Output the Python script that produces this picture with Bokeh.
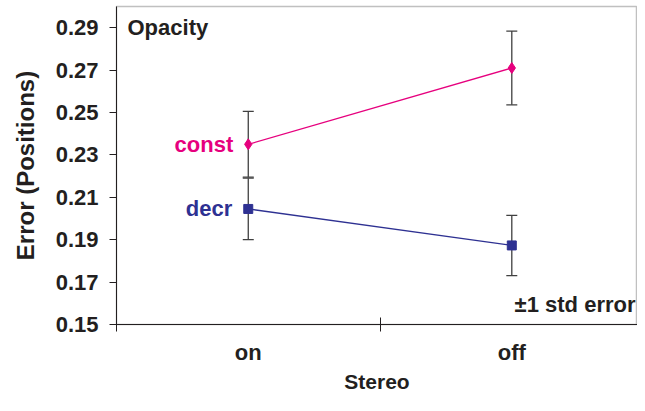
from bokeh.plotting import figure
from bokeh.models import FixedTicker, Range1d, Whisker, ColumnDataSource, Label, TeeHead
from bokeh.embed import file_html
from bokeh.resources import INLINE

categories = ["on", "off"]
const_vals = [0.235, 0.271]
const_err = [0.0155, 0.0174]
decr_vals = [0.2045, 0.1873]
decr_err = [0.0145, 0.0142]
y_ticks = [0.15, 0.17, 0.19, 0.21, 0.23, 0.25, 0.27, 0.29]
y_tick_labels = ["0.15", "0.17", "0.19", "0.21", "0.23", "0.25", "0.27", "0.29"]

MAGENTA = "#e6007e"
NAVY = "#2e3192"
DARK = "#231f20"
FONT = "Liberation Sans"

x_pos = [i + 0.5 for i in range(len(categories))]
bounds = [float(i) for i in range(len(categories) + 1)]
X_END = 1.977

p = figure(width=637, height=395, x_range=Range1d(0, X_END),
           y_range=Range1d(0.15, 0.30), output_backend="svg", toolbar_location=None,
           min_border_left=116, min_border_right=0, min_border_top=6, min_border_bottom=70)
p.background_fill_color = "white"
p.border_fill_color = "white"
p.outline_line_color = "#c0c0c0"
p.outline_line_width = 1.5
p.xgrid.visible = False
p.ygrid.visible = False

# x axis
p.xaxis.ticker = FixedTicker(ticks=x_pos, minor_ticks=bounds)
p.xaxis.major_label_overrides = {x: c for x, c in zip(x_pos, categories)}
p.xaxis.major_tick_in = 0
p.xaxis.major_tick_out = 0
p.xaxis.minor_tick_in = 7
p.xaxis.minor_tick_out = 7
p.xaxis.minor_tick_line_color = DARK
p.xaxis.axis_line_color = DARK
p.xaxis.major_label_standoff = 8
p.xaxis.axis_label = "Stereo"
p.xaxis.axis_label_standoff = 2
p.xaxis.axis_label_text_font_size = "21px"

# y axis
p.yaxis.ticker = FixedTicker(ticks=y_ticks, minor_ticks=[])
p.yaxis.major_label_overrides = {t: l for t, l in zip(y_ticks, y_tick_labels)}
p.yaxis.major_tick_in = 0
p.yaxis.major_tick_out = 7
p.yaxis.major_tick_line_color = DARK
p.yaxis.axis_line_color = DARK
p.yaxis.major_label_standoff = 11
p.yaxis.axis_label = "Error (Positions)"
p.yaxis.axis_label_standoff = 14
p.yaxis.axis_label_text_font_size = "24px"

for ax in (p.xaxis, p.yaxis):
    ax.major_label_text_font = FONT
    ax.major_label_text_font_style = "bold"
    ax.major_label_text_font_size = "22px"
    ax.major_label_text_color = DARK
    ax.axis_label_text_font = FONT
    ax.axis_label_text_font_style = "bold"
    ax.axis_label_text_color = DARK

# error bars
for vals, errs in ((const_vals, const_err), (decr_vals, decr_err)):
    src = ColumnDataSource(dict(
        x=x_pos,
        upper=[v + e for v, e in zip(vals, errs)],
        lower=[v - e for v, e in zip(vals, errs)],
    ))
    w = Whisker(source=src, base="x", upper="upper", lower="lower",
                line_color="#404040", line_width=1.3,
                upper_head=TeeHead(size=11, line_color="#404040", line_width=1.3),
                lower_head=TeeHead(size=11, line_color="#404040", line_width=1.3))
    p.add_layout(w)

# series
p.line(x_pos, const_vals, line_color=MAGENTA, line_width=1.3)
p.scatter(x_pos, const_vals, marker="diamond", size=11, fill_color=MAGENTA, line_color=MAGENTA)
p.line(x_pos, decr_vals, line_color=NAVY, line_width=1.3)
p.scatter(x_pos, decr_vals, marker="square", size=9, fill_color=NAVY, line_color=NAVY)

# labels
def lab(**kw):
    base = dict(text_font=FONT, text_font_style="bold", text_font_size="22px",
                text_baseline="middle")
    base.update(kw)
    p.add_layout(Label(**base))

lab(x=x_pos[0], y=const_vals[0], x_offset=-15, text="const", text_align="right", text_color=MAGENTA)
lab(x=x_pos[0], y=decr_vals[0], x_offset=-16, text="decr", text_align="right", text_color=NAVY)
lab(x=0, y=y_ticks[-1], x_offset=11, text="Opacity", text_align="left", text_color=DARK)
lab(x=X_END, y=y_ticks[0], x_offset=-2, y_offset=20, text="\u00b11 std error",
    text_align="right", text_color=DARK)

open("out.html", "w").write(file_html(p, INLINE))
